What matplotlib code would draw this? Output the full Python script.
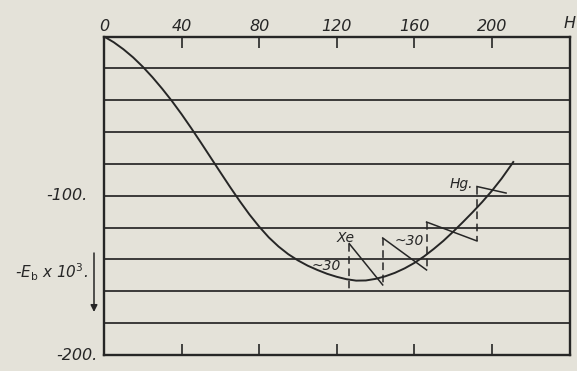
import matplotlib
matplotlib.use("Agg")
import matplotlib.pyplot as plt

# ---- data ----
curve_x = [0, 5, 10, 15, 20, 25, 30, 35, 40, 45, 50, 55, 60, 65, 70, 75, 80,
           85, 90, 95, 100, 105, 110, 115, 120, 125, 130, 135, 140, 145, 150,
           155, 160, 165, 170, 175, 180, 185, 190, 195, 200, 205, 210, 211]
curve_y = [0, -3.6, -8.0, -13.1, -19.0, -25.6, -32.8, -40.5, -48.8, -57.6,
           -66.7, -76.0, -85.3, -94.5, -103.4, -111.8, -119.4, -126.2, -131.9,
           -136.7, -140.6, -143.9, -146.6, -149.0, -150.9, -152.4, -153.3,
           -153.2, -152.2, -150.6, -148.4, -145.6, -142.2, -138.1, -133.4,
           -128.3, -122.6, -116.6, -110.4, -103.9, -96.9, -89.2, -80.6, -78.8]

grid_levels = [-20, -40, -60, -80, -100, -120, -140, -160, -180]
x_ticks = [0, 40, 80, 120, 160, 200]
x_tick_labels = ["0", "40", "80", "120", "160", "200"]
y_label_vals = [-100, -200]
y_label_text = ["-100.", "-200."]

# dashed markers (Xe ... Hg) and slanted bars
mark_x = [126.4, 143.7, 166.3, 192.3]
mark_top = [-130, -126.5, -116.5, -94.2]
mark_bottom = [-160, -156, -146.6, -128.4]
bar_end_x = [143.7, 166.3, 192.3, 207.3]
bar_end_y = [-156, -146.6, -128.4, -98.3]

annot_text = ["Xe", "~30", "~30", "Hg."]
annot_x = [124.8, 122.0, 164.8, 184.0]
annot_y = [-129.0, -146.6, -131.0, -95.0]
annot_ha = ["center", "right", "right", "center"]

# ---- style ----
BG = "#e4e2d9"
INK = "#262626"
FONT = dict(family="DejaVu Sans", style="italic", color=INK)

fig = plt.figure(figsize=(5.77, 3.71), dpi=100, facecolor=BG)
ax = fig.add_axes([104 / 577, 1 - 355 / 371, 465.5 / 577, 318.5 / 371])
ax.set_facecolor(BG)
ax.set_xlim(0, 240)
ax.set_ylim(-200, 0)

for s in ax.spines.values():
    s.set_color(INK)
    s.set_linewidth(1.7)

for g in grid_levels:
    ax.axhline(g, color=INK, lw=1.25, zorder=1)

ax.plot(curve_x, curve_y, color=INK, lw=1.4, zorder=3,
        solid_joinstyle="round")

for i in range(len(mark_x)):
    ax.plot([mark_x[i], mark_x[i]], [mark_top[i], mark_bottom[i]], color=INK,
            lw=1.1, linestyle=(0, (5, 3)), zorder=3)
    ax.plot([mark_x[i], bar_end_x[i]], [mark_top[i], bar_end_y[i]],
            color=INK, lw=1.1, zorder=3)

for t, x, y, ha in zip(annot_text, annot_x, annot_y, annot_ha):
    ax.text(x, y, t, ha=ha, va="baseline", fontsize=10, **FONT)

# x ticks on top (labels) and bottom (ticks only), pointing inward
ax.set_xticks(x_ticks)
ax.set_xticklabels(x_tick_labels, fontsize=11.5, fontstyle="italic", color=INK)
ax.tick_params(axis="x", direction="in", top=True, bottom=True,
               labeltop=True, labelbottom=False, length=8, width=1.2,
               color=INK, pad=2)
ax.set_yticks([])

# y labels
ylab_offsets = [-16, -6]  # pixels left of the axis
for v, t, off in zip(y_label_vals, y_label_text, ylab_offsets):
    ax.text(off / 465.5, v, t, transform=ax.get_yaxis_transform(),
            ha="right", va="center", fontsize=11.5, **FONT)

# axis title and arrow
fig.text(15 / 577, 1 - 278 / 371, r"-E$_\mathrm{b}$ x 10$^3$.", ha="left",
         va="baseline", fontsize=11, **FONT)
ax.annotate("", xy=(94 / 577, 1 - 312 / 371), xytext=(94 / 577, 1 - 253 / 371),
            xycoords="figure fraction", textcoords="figure fraction",
            arrowprops=dict(arrowstyle="-|>", color=INK, lw=1.1,
                            mutation_scale=10, shrinkA=0, shrinkB=0))

# label at top right corner
fig.text(576 / 577, 1 - 28 / 371, "H", ha="right", va="baseline",
         fontsize=11.5, **FONT)

fig.savefig("out.png", dpi=100, facecolor=BG)
